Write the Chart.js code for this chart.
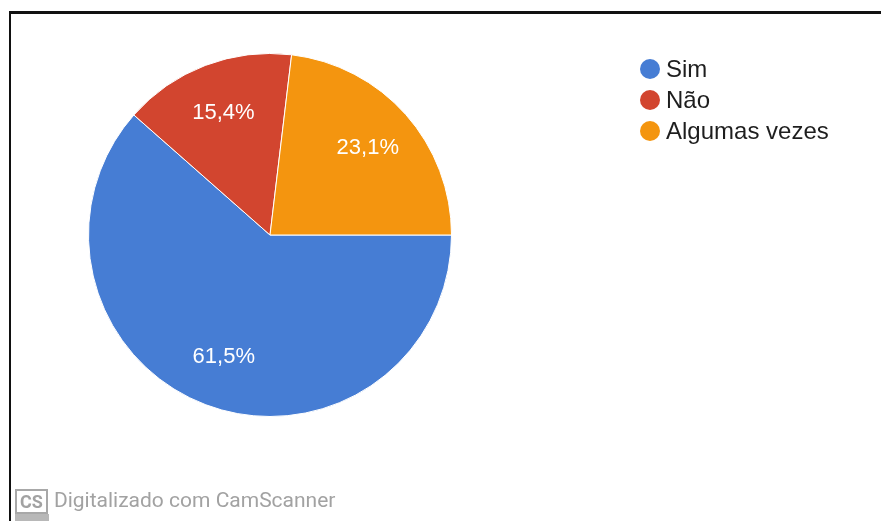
<!DOCTYPE html>
<html>
<head>
<meta charset="utf-8">
<script src="https://cdn.jsdelivr.net/npm/chart.js@4/dist/chart.umd.min.js"></script>
<style>
  html, body { margin: 0; padding: 0; background: #fff; }
  #wrap { position: relative; width: 881px; height: 521px; overflow: hidden; }
  #frame { position: absolute; left: 9px; top: 11px; width: 900px; height: 600px;
           border-top: 3px solid #111; border-left: 2px solid #111; }
  canvas { position: absolute; left: 0; top: 0; }
  #stamp { position: absolute; left: 15px; top: 488px; font-family: Roboto, "Liberation Sans", sans-serif;
           color: #a2a2a2; font-size: 21px; white-space: nowrap; }
  #stamp .cs { display: inline-block; border: 2px solid #a8a8a8; font-weight: bold; font-size: 18px;
               padding: 0 3px; line-height: 21px; margin-right: 6px; vertical-align: top; margin-top: 1px; }
  #stamp .bar { position: absolute; left: 0; top: 26px; width: 34px; height: 10px; background: #b8b8b8; }
</style>
</head>
<body>
<div id="wrap">
  <div id="frame"></div>
  <canvas id="pie" width="881" height="521"></canvas>
  <div id="stamp"><span class="cs">CS</span>Digitalizado com CamScanner<div class="bar"></div></div>
</div>
<script>
const labels = ["Sim", "Não", "Algumas vezes"];
const percents = [61.5, 15.4, 23.1];
const sliceColors = ["#467dd4", "#d2452f", "#f4950f"];

const percentLabels = {
  id: "percentLabels",
  afterDatasetsDraw(chart) {
    const ctx = chart.ctx;
    const meta = chart.getDatasetMeta(0);
    ctx.save();
    ctx.font = "22px 'Liberation Sans', Arial, sans-serif";
    ctx.fillStyle = "#fff";
    ctx.textAlign = "center";
    ctx.textBaseline = "middle";
    meta.data.forEach((arc, i) => {
      const p = arc.getProps(["x", "y", "startAngle", "endAngle", "outerRadius"], true);
      const mid = (p.startAngle + p.endAngle) / 2;
      const r = p.outerRadius * 0.72;
      const text = percents[i].toFixed(1).replace(".", ",") + "%";
      ctx.fillText(text, p.x + Math.cos(mid) * r, p.y + Math.sin(mid) * r);
    });
    ctx.restore();
  },
};

const sideLegend = {
  id: "sideLegend",
  afterDraw(chart) {
    const ctx = chart.ctx;
    const colors = chart.data.datasets[0].backgroundColor;
    ctx.save();
    ctx.font = "24px 'Liberation Sans', Arial, sans-serif";
    ctx.textBaseline = "middle";
    chart.data.labels.forEach((name, i) => {
      const y = 69 + i * 31;
      ctx.beginPath();
      ctx.arc(650, y, 10, 0, Math.PI * 2);
      ctx.fillStyle = colors[i];
      ctx.fill();
      ctx.fillStyle = "#1e1e1e";
      ctx.fillText(name, 666, y + 1);
    });
    ctx.restore();
  },
};

new Chart(document.getElementById("pie"), {
  type: "pie",
  data: {
    labels: labels,
    datasets: [
      {
        data: percents,
        backgroundColor: sliceColors,
        borderColor: "#ffffff",
        borderWidth: 1,
      },
    ],
  },
  options: {
    responsive: false,
    animation: false,
    rotation: 90,
    layout: {
      padding: { left: 88, right: 429, top: 53, bottom: 104 },
    },
    plugins: {
      legend: { display: false },
      tooltip: { enabled: false },
    },
  },
  plugins: [percentLabels, sideLegend],
});
</script>
</body>
</html>
